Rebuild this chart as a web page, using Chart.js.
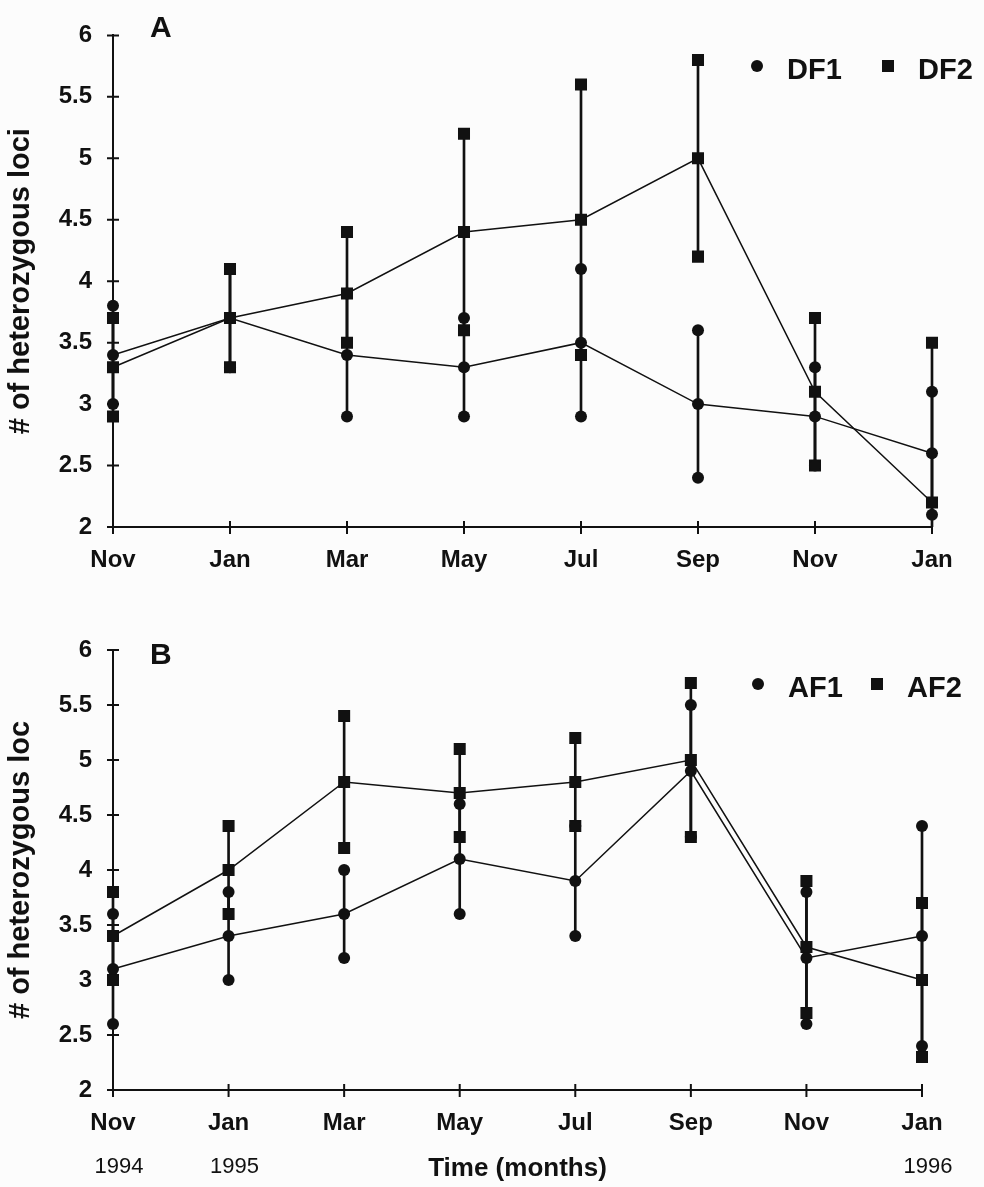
<!DOCTYPE html>
<html>
<head>
<meta charset="utf-8">
<script src="https://cdn.jsdelivr.net/npm/chart.js@4.4.1/dist/chart.umd.min.js"></script>
<style>
  body { margin: 0; background: #fcfcfc; }
  #graficoA { position: absolute; left: 0; top: 0; }
  #graficoB { position: absolute; left: 0; top: 600px; }
</style>
</head>
<body>
<canvas id="graficoA" width="984" height="600"></canvas>
<canvas id="graficoB" width="984" height="587"></canvas>
<script>
// meses das coletas (nov/1994 a jan/1996)
const meses = ['Nov', 'Jan', 'Mar', 'May', 'Jul', 'Sep', 'Nov', 'Jan'];
const anos = ['1994', '1995', '', '', '', '', '', '1996'];

// Painel A - DF1 e DF2 (média, mínimo e máximo da barra)
const df1 = [3.4, 3.7, 3.4, 3.3, 3.5, 3.0, 2.9, 2.6];
const df1Min = [3.0, 3.3, 2.9, 2.9, 2.9, 2.4, 2.5, 2.1];
const df1Max = [3.8, 4.1, 3.9, 3.7, 4.1, 3.6, 3.3, 3.1];
const df2 = [3.3, 3.7, 3.9, 4.4, 4.5, 5.0, 3.1, 2.2];
const df2Min = [2.9, 3.3, 3.5, 3.6, 3.4, 4.2, 2.5, 0.9];
const df2Max = [3.7, 4.1, 4.4, 5.2, 5.6, 5.8, 3.7, 3.5];

// Painel B - AF1 e AF2
const af1 = [3.1, 3.4, 3.6, 4.1, 3.9, 4.9, 3.2, 3.4];
const af1Min = [2.6, 3.0, 3.2, 3.6, 3.4, 4.3, 2.6, 2.4];
const af1Max = [3.6, 3.8, 4.0, 4.6, 4.4, 5.5, 3.8, 4.4];
const af2 = [3.4, 4.0, 4.8, 4.7, 4.8, 5.0, 3.3, 3.0];
const af2Min = [3.0, 3.6, 4.2, 4.3, 4.4, 4.3, 2.7, 2.3];
const af2Max = [3.8, 4.4, 5.4, 5.1, 5.2, 5.7, 3.9, 3.7];

const preto = '#111';
const fonte = '"Liberation Sans", Arial, sans-serif';
Chart.defaults.font.family = fonte;
Chart.defaults.color = preto;

// deixa os pontos passarem da borda do gráfico, menos embaixo
const recorte = { left: 14, right: 14, top: 14, bottom: 0 };

// monta os datasets de uma série: barra de erro + linha da média + pontas
function serie(nome, media, min, max, estilo, raio) {
  const ponto = {
    type: 'line',
    showLine: false,
    pointStyle: estilo,
    pointRadius: raio,
    pointBackgroundColor: preto,
    pointBorderColor: preto,
    pointBorderWidth: 0,
    clip: recorte,
    order: 2
  };
  return [
    {
      type: 'bar',
      label: nome + ' erro',
      data: min.map((v, i) => [v, max[i]]),
      backgroundColor: preto,
      barThickness: 2,
      grouped: false,
      clip: recorte,
      order: 5
    },
    Object.assign({}, ponto, { label: nome + ' min', data: min }),
    Object.assign({}, ponto, { label: nome + ' max', data: max }),
    Object.assign({}, ponto, {
      label: nome,
      data: media,
      showLine: true,
      borderColor: preto,
      borderWidth: 1.5,
      tension: 0,
      order: 1
    })
  ];
}

// tracinhos dos eixos, letra do painel, legenda e anos
const extras = {
  id: 'extras',
  afterDraw(chart, args, opts) {
    const ctx = chart.ctx;
    const area = chart.chartArea;
    const x = chart.scales.x;
    const y = chart.scales.y;
    ctx.save();
    ctx.strokeStyle = preto;
    ctx.fillStyle = preto;
    ctx.lineWidth = 2;
    ctx.beginPath();
    y.ticks.forEach((t, i) => {
      const py = y.getPixelForTick(i);
      ctx.moveTo(area.left - 6, py);
      ctx.lineTo(area.left + 6, py);
    });
    x.ticks.forEach((t, i) => {
      const px = x.getPixelForTick(i);
      ctx.moveTo(px, area.bottom - 6);
      ctx.lineTo(px, area.bottom + 7);
    });
    ctx.stroke();

    ctx.textBaseline = 'middle';
    ctx.textAlign = 'left';
    ctx.font = 'bold 30px ' + fonte;
    ctx.fillText(opts.letra, opts.letraX, opts.letraY);

    ctx.font = 'bold 29px ' + fonte;
    opts.legenda.forEach(item => {
      if (item.estilo === 'circle') {
        ctx.beginPath();
        ctx.arc(item.x, item.y, 6, 0, Math.PI * 2);
        ctx.fill();
      } else {
        ctx.fillRect(item.x - 6, item.y - 6, 12, 12);
      }
      ctx.fillText(item.texto, item.x + 30, item.y + 5);
    });

    if (opts.anos) {
      ctx.font = '22px ' + fonte;
      ctx.textAlign = 'center';
      opts.anos.forEach((a, i) => {
        if (a) ctx.fillText(a, x.getPixelForValue(i) + 6, opts.anosY);
      });
    }
    ctx.restore();
  }
};

function criarGrafico(id, datasets, cfg) {
  return new Chart(document.getElementById(id), {
    type: 'line',
    data: { labels: meses, datasets: datasets },
    options: {
      responsive: false,
      animation: false,
      layout: { padding: { top: cfg.topo, right: cfg.direita, left: 0, bottom: 0 } },
      plugins: {
        legend: { display: false },
        tooltip: { enabled: false },
        extras: cfg.extras
      },
      scales: {
        x: {
          type: 'category',
          offset: false,
          grid: { display: false, drawTicks: false },
          border: { display: true, color: preto, width: 2 },
          ticks: { font: { size: 24, weight: 'bold' }, color: preto, padding: 19, maxRotation: 0, autoSkip: false },
          title: {
            display: !!cfg.tituloX,
            text: cfg.tituloX || '',
            font: { size: 26, weight: 'bold' },
            color: preto,
            padding: { top: 0, bottom: 3 }
          },
          afterFit: s => { s.height = cfg.alturaX; }
        },
        y: {
          min: 2,
          max: 6,
          grid: { display: false, drawTicks: false },
          border: { display: true, color: preto, width: 2 },
          ticks: {
            stepSize: 0.5,
            font: { size: 24, weight: 'bold' },
            color: preto,
            padding: 21,
            callback: v => String(v) // 6, 5.5, 5 ... sem casa decimal extra
          },
          title: {
            display: true,
            text: cfg.tituloY,
            font: { size: 29, weight: 'bold' },
            color: preto,
            padding: { top: 4, bottom: 0 }
          },
          afterFit: s => { s.width = 113; }
        }
      }
    },
    plugins: [extras]
  });
}

// Gráfico A
const graficoA = criarGrafico('graficoA',
  serie('DF1', df1, df1Min, df1Max, 'circle', 6).concat(serie('DF2', df2, df2Min, df2Max, 'rect', 8.5)),
  {
    topo: 23, direita: 52, alturaX: 73,
    tituloY: '# of heterozygous loci',
    extras: {
      letra: 'A', letraX: 150, letraY: 29,
      legenda: [
        { estilo: 'circle', texto: 'DF1', x: 757, y: 66 },
        { estilo: 'rect', texto: 'DF2', x: 888, y: 66 }
      ]
    }
  });

// Gráfico B
const graficoB = criarGrafico('graficoB',
  serie('AF1', af1, af1Min, af1Max, 'circle', 6).concat(serie('AF2', af2, af2Min, af2Max, 'rect', 8.5)),
  {
    topo: 50, direita: 62, alturaX: 97,
    tituloY: '# of heterozygous loc',
    tituloX: 'Time (months)',
    extras: {
      letra: 'B', letraX: 150, letraY: 56,
      legenda: [
        { estilo: 'circle', texto: 'AF1', x: 758, y: 84 },
        { estilo: 'rect', texto: 'AF2', x: 877, y: 84 }
      ],
      anos: anos, anosY: 567
    }
  });
</script>
</body>
</html>
